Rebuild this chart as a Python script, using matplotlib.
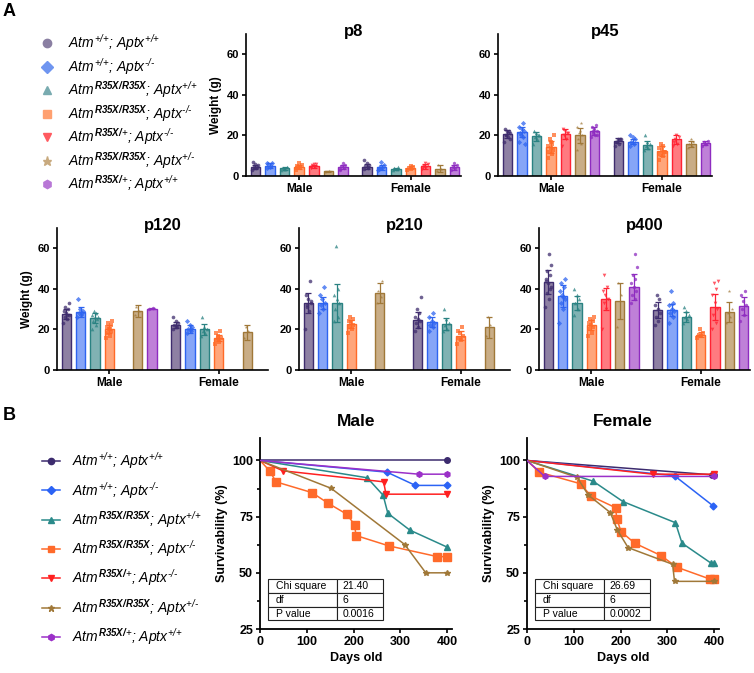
import matplotlib
matplotlib.use("Agg")
import numpy as np
import matplotlib.pyplot as plt

plt.rcParams["font.family"] = ["Liberation Sans", "DejaVu Sans"]
plt.rcParams["mathtext.fontset"] = "custom"
plt.rcParams["mathtext.it"] = "Liberation Sans:italic"
plt.rcParams["mathtext.rm"] = "Liberation Sans:italic"
plt.rcParams["mathtext.bf"] = "Liberation Sans:italic:bold"

# genotype labels (same order everywhere)
genotypes = [
    r"$Atm^{\text{+/+}}$; $Aptx^{\text{+/+}}$",
    r"$Atm^{\text{+/+}}$; $Aptx^{\text{-/-}}$",
    r"$Atm^{\mathbf{R35X/R35X}}$; $Aptx^{\text{+/+}}$",
    r"$Atm^{\mathbf{R35X/R35X}}$; $Aptx^{\text{-/-}}$",
    r"$Atm^{\mathbf{R35X/}\text{+}}$; $Aptx^{\text{-/-}}$",
    r"$Atm^{\mathbf{R35X/R35X}}$; $Aptx^{\text{+/-}}$",
    r"$Atm^{\mathbf{R35X/}\text{+}}$; $Aptx^{\text{+/+}}$",
]
sexes = ["Male", "Female"]
NA = np.nan

# ---- weights (g): bar means, SDs and individual animals ----
p8_m_mean = [4.5, 5.0, 3.8, 4.3, 4.8, 2.4, 4.4]
p8_m_sd = [1.0, 1.2, 0.6, 1.0, 0.8, 0.3, 1.0]
p8_f_mean = [4.6, 4.2, 3.5, 4.0, 4.8, 3.6, 4.2]
p8_f_sd = [1.2, 1.1, 0.5, 0.7, 1.3, 1.6, 1.0]
p8_m_pts = [[3.2, 4.0, 4.6, 5.2, 6.0, 6.8, 4.4, 3.8], [4.0, 5.0, 5.8, 6.6, 4.4, 6.2],
            [3.0, 3.5, 4.0, 4.4, 3.6], [3.2, 4.0, 4.8, 5.6, 6.2, 3.8],
            [4.0, 4.6, 5.2, 5.8, 6.0, 4.4], [2.2, 2.5], [3.2, 4.0, 4.8, 5.6, 6.4, 3.6]]
p8_f_pts = [[3.4, 4.0, 4.8, 5.6, 6.4, 7.8, 4.2], [3.2, 4.0, 4.6, 5.4, 6.8, 3.6],
            [3.0, 3.4, 3.8, 4.2], [3.2, 3.6, 4.0, 4.6, 5.0],
            [3.4, 4.2, 5.0, 5.8, 6.6, 4.4], [2.4, 3.6, 5.4], [3.2, 3.8, 4.4, 5.2, 6.4]]

p45_m_mean = [20.5, 21.5, 19.5, 14.5, 20.5, 20.0, 22.0]
p45_m_sd = [2.0, 2.5, 2.0, 3.0, 2.5, 3.5, 2.0]
p45_f_mean = [17.5, 17.0, 15.5, 12.5, 18.0, 16.0, 16.5]
p45_f_sd = [1.0, 1.2, 2.0, 2.5, 2.0, 1.5, 1.0]
p45_m_pts = [[17, 19, 20, 21, 22, 23, 22, 20, 18, 21], [17, 19, 21, 22, 23, 24, 26, 20, 16],
             [16, 18, 19, 20, 21, 22, 20], [9, 11, 12, 13, 14, 15, 16, 18, 20, 17],
             [15, 18, 20, 21, 22, 23, 21], [13, 16, 18, 20, 22, 24, 26, 21],
             [19, 20, 21, 22, 23, 24, 25, 22, 20]]
p45_f_pts = [[15, 16, 17, 18, 18, 17, 18], [15, 16, 17, 18, 19, 20], [13, 14, 15, 16, 17, 20],
             [8, 10, 11, 12, 13, 14, 15, 16, 12], [15, 16, 18, 19, 20, 17],
             [14, 15, 16, 17, 18], [15, 16, 17, 17.5, 16]]

p120_m_mean = [27.5, 28.5, 25.5, 20.0, NA, 29.0, 30.3]
p120_m_sd = [2.5, 2.5, 2.5, 2.0, NA, 3.0, 0.3]
p120_f_mean = [22.0, 20.2, 20.0, 16.0, NA, 18.5, NA]
p120_f_sd = [1.5, 2.0, 2.5, 1.5, NA, 3.5, NA]
p120_m_pts = [[23, 25, 26, 27, 28, 29, 30, 31, 33, 27], [26, 27, 28, 29, 30, 35, 28],
              [20, 22, 24, 25, 26, 27, 28, 29, 26], [16, 17, 18, 19, 20, 21, 22, 23, 24, 20],
              [], [27, 29, 31], [30, 30.5]]
p120_f_pts = [[20, 21, 22, 23, 24, 26, 21], [18, 19, 20, 21, 22, 24, 20], [17, 18, 19, 20, 21, 26],
              [13, 14, 15, 16, 17, 18, 19, 16], [], [16, 19, 21], []]

p210_m_mean = [33.0, 33.0, 33.0, 22.5, NA, 38.0, NA]
p210_m_sd = [5.0, 3.0, 9.5, 2.0, NA, 5.0, NA]
p210_f_mean = [24.5, 23.5, 22.5, 17.0, NA, 21.0, NA]
p210_f_sd = [4.0, 2.5, 3.0, 2.0, NA, 5.0, NA]
p210_m_pts = [[20, 29, 31, 33, 35, 37, 44, 32, 34], [28, 30, 32, 33, 35, 37, 41],
              [24, 26, 30, 33, 35, 37, 40, 61], [18, 20, 21, 22, 23, 24, 25, 26],
              [], [33, 36, 39, 44], []]
p210_f_pts = [[19, 21, 23, 24, 25, 26, 28, 30, 36], [19, 21, 22, 23, 24, 26, 28],
              [19, 20, 22, 23, 25, 30], [13, 15, 16, 17, 18, 19, 21], [], [17, 22, 26], []]

p400_m_mean = [43.5, 36.5, 33.0, 22.0, 35.0, 34.0, 41.0]
p400_m_sd = [6.0, 5.5, 3.5, 2.5, 5.5, 9.0, 6.5]
p400_f_mean = [29.5, 29.5, 26.0, 17.5, 31.0, 28.5, 31.5]
p400_f_sd = [4.0, 3.0, 2.5, 1.0, 6.5, 5.0, 4.5]
p400_m_pts = [[31, 35, 38, 41, 43, 45, 47, 49, 52, 57, 44, 40], [23, 30, 33, 35, 37, 39, 41, 43, 45, 36],
              [27, 30, 33, 35, 37, 40], [17, 18, 20, 21, 22, 23, 24, 25, 26],
              [20, 30, 33, 35, 37, 39, 41, 47], [21, 37, 43], [33, 35, 37, 39, 41, 43, 45, 47, 51, 57]]
p400_f_pts = [[22, 24, 26, 28, 30, 32, 35, 37], [23, 26, 28, 29, 30, 32, 33, 39],
              [23, 25, 26, 27, 29, 31], [16, 17, 17.5, 18, 20],
              [20, 23, 27, 30, 33, 37, 40, 43, 44], [23, 26, 28, 30, 39], [24, 27, 30, 32, 34, 37, 39]]

# ---- survival (%) vs days old ----
male_days = [[0, 400], [0, 271, 332, 400], [0, 229, 263, 273, 320, 400],
             [0, 21, 34, 111, 146, 186, 202, 205, 275, 379, 400],
             [0, 49, 264, 269, 400], [0, 152, 309, 354, 400], [0, 339, 400]]
male_surv = [[100, 100], [100, 94.8, 88.9, 88.9], [100, 92.3, 84.5, 76.5, 69.0, 61.4],
             [100, 95.3, 90.5, 85.7, 80.9, 76.0, 71.3, 66.6, 62.0, 57.2, 57.2],
             [100, 95.4, 90.5, 85.0, 85.0], [100, 87.6, 62.6, 50.0, 50.0], [100, 93.9, 93.9]]
female_days = [[0, 395, 400], [0, 315, 398], [0, 141, 205, 317, 331, 393, 400],
               [0, 26, 115, 136, 189, 192, 201, 230, 286, 320, 391, 400],
               [0, 268, 400], [0, 107, 131, 178, 193, 216, 311, 315, 400], [0, 38, 400]]
female_surv = [[100, 93.6, 93.6], [100, 93.2, 79.7], [100, 90.8, 81.7, 72.3, 63.2, 54.3, 54.3],
               [100, 94.8, 89.6, 84.2, 79.0, 73.8, 68.3, 63.2, 57.7, 52.5, 47.2, 47.2],
               [100, 93.9, 93.9], [100, 92.5, 84.6, 76.8, 69.0, 61.2, 53.8, 46.2, 46.2],
               [100, 92.9, 92.9]]
stat_names = ["Chi square", "df", "P value"]
male_stats = ["21.40", "6", "0.0016"]
female_stats = ["26.69", "6", "0.0002"]

# colours
bar_fill = ["#8e80a3", "#86a5f7", "#80b2b3", "#ffa67b", "#ff7a80", "#c9ad86", "#bf80d8"]
bar_edge = ["#3f2d6e", "#2e64f0", "#2a8282", "#ff6a28", "#ff2233", "#a07838", "#8e2cc0"]
leg_a_col = ["#8a7fa2", "#6f95f0", "#79abb0", "#ffa070", "#ff5a60", "#c8aa7f", "#b877d6"]
line_col = ["#3c2b6e", "#2b63f5", "#2a8a8a", "#ff6a2a", "#ff2020", "#a07838", "#9b30c8"]
markers = ["o", "D", "^", "s", "v", "*", "h"]
surv_ms = [4, 3.5, 4.5, 6, 4.5, 4, 4]

W, H = 754, 673
fig = plt.figure(figsize=(W / 100, H / 100), dpi=100)


def px_axes(x0, y0, x1, y1):
    return fig.add_axes([x0 / W, 1 - y1 / H, (x1 - x0) / W, (y1 - y0) / H])


def bold_ticks(ax, xsize, ysize):
    ax.tick_params(width=1.2, length=3)
    ax.tick_params(axis="x", labelsize=xsize, pad=2)
    ax.tick_params(axis="y", labelsize=ysize, pad=2)
    for t in ax.get_xticklabels() + ax.get_yticklabels():
        t.set_fontweight("bold")


GAP = 7.65


def bar_panel(ax, title, data, ylabel):
    for s, (means, sds, pts) in enumerate(data):
        for g in range(7):
            if np.isnan(means[g]):
                continue
            x = s * GAP + g
            ax.bar(x, means[g], width=0.65, color=bar_fill[g], edgecolor=bar_edge[g],
                   linewidth=1.0, zorder=1)
            p = np.array(pts[g], dtype=float)
            off = ((np.arange(len(p)) * 0.618) % 1 - 0.5) * 0.45
            ax.scatter(x + off, p, s=7, marker=markers[g], color=bar_edge[g], alpha=0.75,
                       linewidths=0, zorder=2)
            ax.errorbar(x, means[g], yerr=sds[g], color=bar_edge[g], capsize=2,
                        elinewidth=0.9, capthick=0.9, zorder=3)
    ax.set_xlim(-0.65, 14.1)
    ax.set_ylim(0, 70)
    ax.set_yticks([0, 20, 40, 60])
    ax.set_xticks([3, GAP + 3])
    ax.set_xticklabels(sexes)
    for sp in ["top", "right"]:
        ax.spines[sp].set_visible(False)
    for sp in ["left", "bottom"]:
        ax.spines[sp].set_linewidth(1.2)
    bold_ticks(ax, 8.5, 8)
    ax.text(0.5, 1.02, title, transform=ax.transAxes, ha="center", va="center",
            fontsize=12, fontweight="bold")
    if ylabel:
        ax.set_ylabel("Weight (g)", fontsize=8.5, fontweight="bold", labelpad=3)


panels = [
    ((246, 34, 461, 176), "p8", True,
     [(p8_m_mean, p8_m_sd, p8_m_pts), (p8_f_mean, p8_f_sd, p8_f_pts)]),
    ((498, 34, 712, 176), "p45", False,
     [(p45_m_mean, p45_m_sd, p45_m_pts), (p45_f_mean, p45_f_sd, p45_f_pts)]),
    ((57, 228, 268, 370), "p120", True,
     [(p120_m_mean, p120_m_sd, p120_m_pts), (p120_f_mean, p120_f_sd, p120_f_pts)]),
    ((299, 228, 510, 370), "p210", False,
     [(p210_m_mean, p210_m_sd, p210_m_pts), (p210_f_mean, p210_f_sd, p210_f_pts)]),
    ((539, 228, 750, 370), "p400", False,
     [(p400_m_mean, p400_m_sd, p400_m_pts), (p400_f_mean, p400_f_sd, p400_f_pts)]),
]
for box, title, ylab, data in panels:
    bar_panel(px_axes(*box), title, data, ylab)

# legend A
lga = px_axes(30, 30, 235, 200)
lga.set_xlim(30, 235)
lga.set_ylim(200, 30)
lga.axis("off")
for g in range(7):
    y = 43 + 23.5 * g
    lga.plot([47], [y], marker=markers[g], color=leg_a_col[g], ms=6 if g != 5 else 6.5,
             linestyle="none")
    lga.text(68, y + 5, genotypes[g], fontsize=10, style="italic", va="baseline")


# survival panels
def surv_panel(ax, title, days, surv, stats):
    for g in range(7):
        ax.plot(days[g], surv[g], color=line_col[g], lw=1.1, marker=markers[g],
                ms=surv_ms[g], markevery=slice(1, None), zorder=2 + g * 0.1)
    ax.set_xlim(0, 410)
    ax.set_ylim(25, 110)
    ax.set_xticks([0, 100, 200, 300, 400])
    ax.set_yticks([25, 50, 75, 100])
    ax.set_yticks([37.5, 62.5, 87.5], minor=True)
    ax.tick_params(axis="y", which="minor", length=2.5, width=1.2)
    for sp in ["top", "right"]:
        ax.spines[sp].set_visible(False)
    for sp in ["left", "bottom"]:
        ax.spines[sp].set_linewidth(1.3)
    bold_ticks(ax, 9, 9)
    ax.set_title(title, fontsize=12.5, fontweight="bold", pad=9)
    ax.set_xlabel("Days old", fontsize=9, fontweight="bold", labelpad=3)
    ax.set_ylabel("Survivability (%)", fontsize=9, fontweight="bold", labelpad=3)
    tb = ax.table(cellText=[[n, v] for n, v in zip(stat_names, stats)],
                  colWidths=[0.6, 0.4], cellLoc="left",
                  bbox=[0.04, 0.045, 0.6, 0.215], zorder=5)
    tb.auto_set_font_size(False)
    tb.set_fontsize(7.5)
    for cell in tb.get_celld().values():
        cell.set_linewidth(0.8)
        cell.set_edgecolor("#222222")
        cell.set_facecolor("white")
        cell.PAD = 0.12


surv_panel(px_axes(260, 438, 452, 629), "Male", male_days, male_surv, male_stats)
surv_panel(px_axes(527, 438, 719, 629), "Female", female_days, female_surv, female_stats)

# legend B
lgb = px_axes(30, 440, 235, 660)
lgb.set_xlim(30, 235)
lgb.set_ylim(660, 440)
lgb.axis("off")
for g in range(7):
    y = 461 + 29.3 * g
    lgb.plot([42, 60], [y, y], color=line_col[g], lw=1.1)
    lgb.plot([51], [y], marker=markers[g], color=line_col[g], ms=4.5, linestyle="none")
    lgb.text(72, y + 5, genotypes[g], fontsize=10, style="italic", va="baseline")

fig.text(0.003, 0.995, "A", fontsize=13, fontweight="bold", va="top")
fig.text(0.003, 0.395, "B", fontsize=13, fontweight="bold", va="top")

fig.savefig("out.png", dpi=100)
